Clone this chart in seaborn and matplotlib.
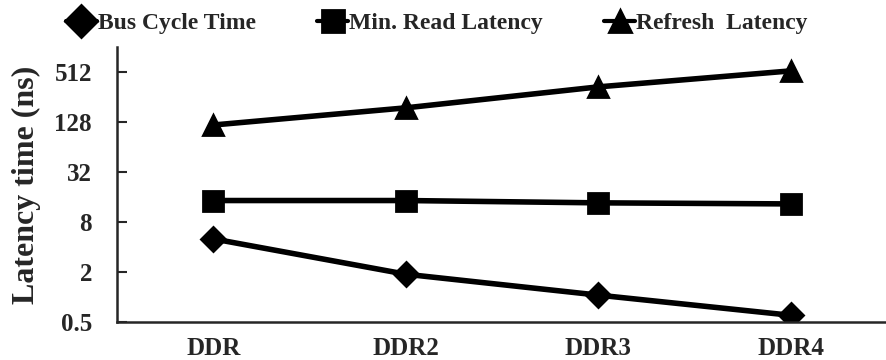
import pandas as pd
import matplotlib.pyplot as plt
import seaborn as sns

# data
generations = ['DDR', 'DDR2', 'DDR3', 'DDR4']
bus_cycle = [5.0, 1.875, 1.05, 0.6]
min_read = [14.5, 14.5, 13.6, 13.2]
refresh = [118, 190, 340, 530]
series_names = ['Bus Cycle Time', 'Min. Read Latency', 'Refresh  Latency']
y_ticks = [0.5, 2, 8, 32, 128, 512]
y_tick_labels = ['0.5', '2', '8', '32', '128', '512']

rows = []
for name, vals in zip(series_names, [bus_cycle, min_read, refresh]):
    for g, v in zip(generations, vals):
        rows.append({'gen': g, 'latency': v, 'metric': name})
df = pd.DataFrame(rows)

sns.set_style('ticks')
plt.rcParams['font.family'] = ['Liberation Serif', 'DejaVu Serif']
plt.rcParams['font.weight'] = 'bold'

fig = plt.figure(figsize=(8.87, 3.6), dpi=100)
ax = fig.add_axes([0.132, 0.106, 0.868, 0.763])

marker_map = {'Bus Cycle Time': 'D', 'Min. Read Latency': 's',
              'Refresh  Latency': '^'}
sns.lineplot(data=df, x='gen', y='latency', hue='metric', style='metric',
             markers=marker_map, dashes=False, palette=['black'] * 3,
             linewidth=4, markersize=14, markeredgecolor='black',
             markeredgewidth=2, ax=ax)

# marker shapes differ a bit in size in the reference
sizes = {'D': 12, 's': 14, '^': 15}
for ln in ax.lines:
    m = ln.get_marker()
    if m in sizes:
        ln.set_markersize(sizes[m])
        ln.set_markeredgewidth(2)
        ln.set_solid_joinstyle('round')

ax.set_yscale('log', base=2)
ax.set_ylim(0.5, 1024)
ax.set_xlim(-0.5, 3.5)
ax.set_yticks(y_ticks)
ax.set_yticklabels(y_tick_labels)
ax.minorticks_off()
ax.tick_params(axis='y', direction='in', length=7, width=1.5, labelsize=18, pad=18)
ax.tick_params(axis='x', length=0, labelsize=18, pad=11)
for lbl in ax.get_xticklabels() + ax.get_yticklabels():
    lbl.set_fontweight('bold')
ax.set_xlabel('')
ax.set_ylabel('Latency time (ns)', fontsize=23, fontweight='bold', labelpad=10)

for s in ['top', 'right']:
    ax.spines[s].set_visible(False)
for s in ['left', 'bottom']:
    ax.spines[s].set_linewidth(1.8)

handles, labels = ax.get_legend_handles_labels()
leg = ax.legend(handles, labels, loc='center left',
                bbox_to_anchor=(66 / 887, 1 - 23 / 360),
                bbox_transform=fig.transFigure, ncol=3, frameon=False,
                borderpad=0, borderaxespad=0,
                handlelength=1.3, handletextpad=0.05, columnspacing=2.6,
                prop={'size': 17, 'weight': 'bold'})
for h in leg.legend_handles:
    h.set_markersize(16)
    h.set_linewidth(3)

fig.savefig('out.png', dpi=100)
